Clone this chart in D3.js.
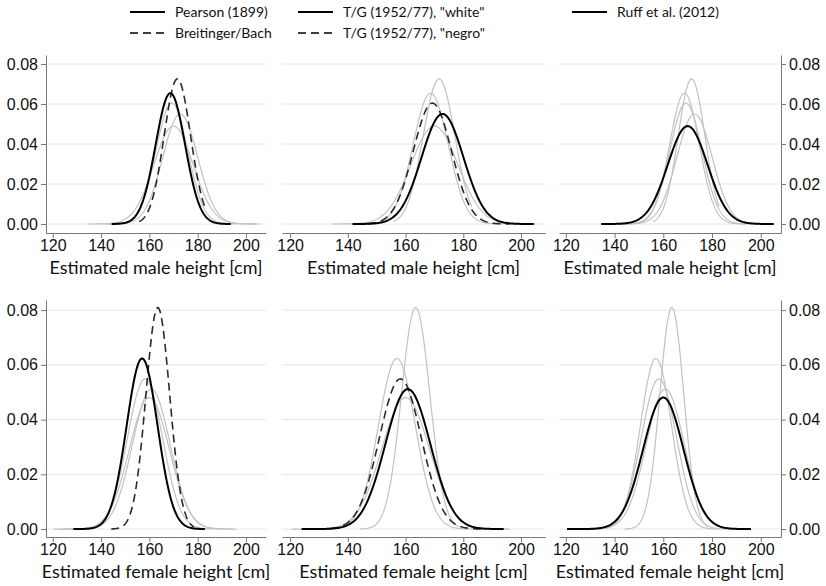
<!DOCTYPE html>
<html>
<head>
<meta charset="utf-8">
<script src="https://cdn.jsdelivr.net/npm/d3@7"></script>
<style>
  body { margin: 0; background: #fff; }
  svg { font-family: Lato, "Open Sans", sans-serif; }
</style>
</head>
<body>
<svg id="chart" width="826" height="586"></svg>
<script>
const W = 826, H = 586;

// curve parameters (normal densities: mean, sd, plotted range)
const names = ["Pearson (1899)", "Breitinger/Bach", "T/G (1952/77), \"white\"", "T/G (1952/77), \"negro\"", "Ruff et al. (2012)"];
const dashed = [false, true, false, true, false];
const maleMean = [168.7, 171.6, 172.8, 169.3, 170.0];
const maleSd   = [6.1, 5.5, 7.25, 6.6, 8.15];
const maleLo   = [144.4, 155.8, 141.6, 142.5, 134.5];
const maleHi   = [193.7, 182.9, 204.4, 196.0, 205.3];
const femaleMean = [157.0, 163.5, 160.8, 158.2, 160.0];
const femaleSd   = [6.4, 4.93, 7.8, 7.27, 8.3];
const femaleLo   = [128.5, 144.2, 124.0, 125.0, 120.5];
const femaleHi   = [183.0, 178.5, 194.0, 186.0, 196.0];
const highlight = [[0, 1], [2, 3], [4]];   // which curves are black in each column
const xTicks = [120, 140, 160, 180, 200];
const yTicks = [0, 0.02, 0.04, 0.06, 0.08];
const xTitles = ["Estimated male height [cm]", "Estimated female height [cm]"];

// layout
const cols = [[46, 266], [282, 545], [559, 781]];
const rows = [
  {y: [233, 55], dom: [-0.0045, 0.0845]},
  {y: [537, 300], dom: [-0.0029, 0.0837]}
];
const xDom = [117.2, 208.3];

const svg = d3.select("#chart");

const sexes = [
  {mean: maleMean, sd: maleSd, lo: maleLo, hi: maleHi},
  {mean: femaleMean, sd: femaleSd, lo: femaleLo, hi: femaleHi}
];

function density(m, s, lo, hi) {
  const pts = [];
  const n = 200;
  for (let i = 0; i <= n; i++) {
    const v = lo + (hi - lo) * i / n;
    const z = (v - m) / s;
    pts.push([v, Math.exp(-0.5 * z * z) / (s * Math.sqrt(2 * Math.PI))]);
  }
  return pts;
}

rows.forEach((row, r) => {
  const sex = sexes[r];
  const y = d3.scaleLinear().domain(row.dom).range(row.y);
  cols.forEach((c, ci) => {
    const x = d3.scaleLinear().domain(xDom).range(c);
    const g = svg.append("g");

    // gridlines
    g.selectAll(".grid").data(yTicks).join("line")
      .attr("x1", c[0]).attr("x2", c[1])
      .attr("y1", d => y(d)).attr("y2", d => y(d))
      .attr("stroke", "#e6e6e6").attr("stroke-width", 1);

    const line = d3.line().x(d => x(d[0])).y(d => y(d[1]));
    const hl = highlight[ci];
    const curves = names.map((n, i) => ({i, pts: density(sex.mean[i], sex.sd[i], sex.lo[i], sex.hi[i])}));

    // grey background curves first
    g.selectAll(".gray").data(curves.filter(d => !hl.includes(d.i))).join("path")
      .attr("fill", "none").attr("stroke", "#c2c2c2").attr("stroke-width", 1.2)
      .attr("d", d => line(d.pts));

    g.selectAll(".hl").data(curves.filter(d => hl.includes(d.i)).reverse()).join("path")
      .attr("fill", "none")
      .attr("stroke", d => dashed[d.i] ? "#2a2a2a" : "#000")
      .attr("stroke-width", d => dashed[d.i] ? 1.6 : 2)
      .attr("stroke-dasharray", d => dashed[d.i] ? "8,5" : null)
      .attr("d", d => line(d.pts));

    // x axis
    const xa = g.append("g").attr("transform", `translate(0,${row.y[0]})`)
      .call(d3.axisBottom(x).tickValues(xTicks).tickSize(5).tickSizeOuter(0).tickPadding(2));
    xa.select(".domain").attr("stroke", "#777");
    xa.selectAll(".tick line").attr("stroke", "#777");
    xa.selectAll("text").attr("font-size", 16).attr("fill", "#111");

    g.append("text")
      .attr("x", (c[0] + c[1]) / 2).attr("y", row.y[0] + 40.5)
      .attr("text-anchor", "middle").attr("font-size", 18).attr("fill", "#111")
      .text(xTitles[r]);

    // y axis, left on first column, right on last
    if (ci === 0 || ci === 2) {
      const ax = ci === 0 ? d3.axisLeft(y) : d3.axisRight(y);
      const ya = g.append("g").attr("transform", `translate(${ci === 0 ? c[0] : c[1]},0)`)
        .call(ax.tickValues(yTicks).tickFormat(d3.format(".2f")).tickSize(5).tickSizeOuter(0).tickPadding(3));
      ya.select(".domain").attr("stroke", "#777");
      ya.selectAll(".tick line").attr("stroke", "#777");
      ya.selectAll("text").attr("font-size", 16).attr("fill", "#111");
    }
  });
});

// legend
const legendItems = [
  {i: 0, x: 130, y: 12}, {i: 1, x: 130, y: 33},
  {i: 2, x: 298, y: 12}, {i: 3, x: 298, y: 33},
  {i: 4, x: 572, y: 12}
];
const lg = svg.append("g");
legendItems.forEach(d => {
  lg.append("line")
    .attr("x1", d.x).attr("x2", d.x + 35)
    .attr("y1", d.y).attr("y2", d.y)
    .attr("stroke", "#000").attr("stroke-width", dashed[d.i] ? 1.6 : 2)
    .attr("stroke-dasharray", dashed[d.i] ? "8,5" : null);
  lg.append("text")
    .attr("x", d.x + 45).attr("y", d.y + 5)
    .attr("font-size", 14).attr("fill", "#111")
    .text(names[d.i]);
});
</script>
</body>
</html>
